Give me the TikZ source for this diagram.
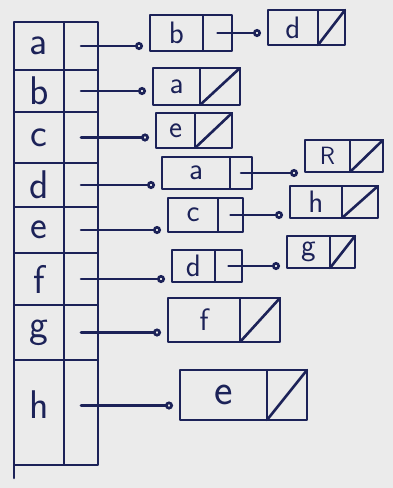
\documentclass[tikz,border=0pt]{standalone}
\usetikzlibrary{arrows.meta}
\definecolor{ink}{HTML}{1C2258}
\definecolor{paper}{HTML}{EBEBEB}
\begin{document}
\begin{tikzpicture}[x=1pt,y=-1pt,
  ink/.style={draw=ink, line width=2.6pt, line cap=round, line join=round},
  acell/.style={ink, minimum width=50pt, inner sep=0pt, outer sep=0pt, anchor=north west, text=ink,
    font=\sffamily\fontsize{40}{40}\selectfont},
  pcell/.style={ink, minimum width=34pt, inner sep=0pt, outer sep=0pt, anchor=north west},
  dcell/.style={ink, inner sep=0pt, outer sep=0pt, anchor=north west, text=ink,
    font=\sffamily\fontsize{31}{31}\selectfont},
  lptr/.style={ink, -{Circle[open,length=8pt,width=8pt,line width=2.6pt]}, shorten >=7pt},
  nullp/.style={ink}
]
\fill[paper] (0,0) rectangle (393,488);
\useasboundingbox (0,0) rectangle (393,488);

% array of vertices
\node[acell, minimum height=48pt] (Ra) at (14,22) {a};
\node[pcell, minimum height=48pt] (Pa) at (Ra.north east) {};
\node[acell, minimum height=42pt] (Rb) at (Ra.south west) {b};
\node[pcell, minimum height=42pt] (Pb) at (Rb.north east) {};
\node[acell, minimum height=51pt] (Rc) at (Rb.south west) {c};
\node[pcell, minimum height=51pt] (Pc) at (Rc.north east) {};
\node[acell, minimum height=44pt] (Rd) at (Rc.south west) {d};
\node[pcell, minimum height=44pt] (Pd) at (Rd.north east) {};
\node[acell, minimum height=46pt] (Re) at (Rd.south west) {e};
\node[pcell, minimum height=46pt] (Pe) at (Re.north east) {};
\node[acell, minimum height=52pt] (Rf) at (Re.south west) {f};
\node[pcell, minimum height=52pt] (Pf) at (Rf.north east) {};
\node[acell, minimum height=55pt] (Rg) at (Rf.south west) {g};
\node[pcell, minimum height=55pt] (Pg) at (Rg.north east) {};
\node[acell, minimum height=105pt] (Rh) at (Rg.south west) {};
\node[acell, draw=none, anchor=center] (Lh) at ([yshift=-45pt]Rh.north) {h};
\node[pcell, minimum height=105pt] (Ph) at (Rh.north east) {};
\coordinate (tick) at ([yshift=-13pt]Rh.south west);
\draw[ink] (Rh.south west) -- (tick);

% list a
\node[dcell, minimum width=53pt, minimum height=36pt] (A1) at (150,15) {b};
\node[pcell, minimum width=29pt, minimum height=36pt] (A1p) at (A1.north east) {};
\node[dcell, minimum width=50pt, minimum height=35pt] (A2) at (268,10) {d};
\node[pcell, minimum width=27pt, minimum height=35pt] (A2p) at (A2.north east) {};
\draw[nullp] (A2p.south west) -- (A2p.north east);
\draw[lptr] (Pa.center) -- (Pa.center -| A1.west);
\draw[lptr] (A1p.center) -- (A1p.center -| A2.west);

% list b
\node[dcell, minimum width=47pt, minimum height=37pt] (B1) at (153,68) {a};
\node[pcell, minimum width=40pt, minimum height=37pt] (B1p) at (B1.north east) {};
\draw[nullp] (B1p.south west) -- (B1p.north east);
\draw[lptr] (Pb.center) -- (Pb.center -| B1.west);

% list c
\node[dcell, minimum width=39pt, minimum height=35pt] (C1) at (156,113) {e};
\node[pcell, minimum width=37pt, minimum height=35pt] (C1p) at (C1.north east) {};
\draw[nullp] (C1p.south west) -- (C1p.north east);
\draw[lptr] (Pc.center) -- (Pc.center -| C1.west);

% list d
\node[dcell, minimum width=68pt, minimum height=32pt] (D1) at (162,157) {a};
\node[pcell, minimum width=22pt, minimum height=32pt] (D1p) at (D1.north east) {};
\node[dcell, minimum width=45pt, minimum height=32pt, font=\sffamily\fontsize{25}{25}\selectfont] (D2) at (305,140) {R};
\node[pcell, minimum width=33pt, minimum height=32pt] (D2p) at (D2.north east) {};
\draw[nullp] (D2p.south west) -- (D2p.north east);
\draw[lptr] (Pd.center) -- (Pd.center -| D1.west);
\draw[lptr] (D1p.center) -- (D1p.center -| D2.west);

% list e
\node[dcell, minimum width=50pt, minimum height=34pt] (E1) at (168,198) {c};
\node[pcell, minimum width=25pt, minimum height=34pt] (E1p) at (E1.north east) {};
\node[dcell, minimum width=52pt, minimum height=32pt] (E2) at (290,186) {h};
\node[pcell, minimum width=36pt, minimum height=32pt] (E2p) at (E2.north east) {};
\draw[nullp] (E2p.south west) -- (E2p.north east);
\draw[lptr] (Pe.center) -- (Pe.center -| E1.west);
\draw[lptr] (E1p.center) -- (E1p.center -| E2.west);

% list f
\node[dcell, minimum width=43pt, minimum height=32pt] (F1) at (172,250) {d};
\node[pcell, minimum width=27pt, minimum height=32pt] (F1p) at (F1.north east) {};
\node[dcell, minimum width=43pt, minimum height=32pt] (F2) at (287,236) {g};
\node[pcell, minimum width=25pt, minimum height=32pt] (F2p) at (F2.north east) {};
\draw[nullp] (F2p.south west) -- (F2p.north east);
\draw[lptr] (Pf.center) -- (Pf.center -| F1.west);
\draw[lptr] (F1p.center) -- (F1p.center -| F2.west);

% list g
\node[dcell, minimum width=72pt, minimum height=44pt] (G1) at (168,298) {f};
\node[pcell, minimum width=40pt, minimum height=44pt] (G1p) at (G1.north east) {};
\draw[nullp] (G1p.south west) -- (G1p.north east);
\draw[lptr] (Pg.center) -- (Pg.center -| G1.west);

% list h
\node[dcell, minimum width=87pt, minimum height=50pt, font=\sffamily\fontsize{44}{44}\selectfont] (H1) at (180,370) {e};
\node[pcell, minimum width=40pt, minimum height=50pt] (H1p) at (H1.north east) {};
\draw[nullp] (H1p.south west) -- (H1p.north east);
\draw[lptr] ([yshift=7pt]Ph.center) -- ([yshift=7pt]Ph.center -| H1.west);
\end{tikzpicture}
\end{document}
